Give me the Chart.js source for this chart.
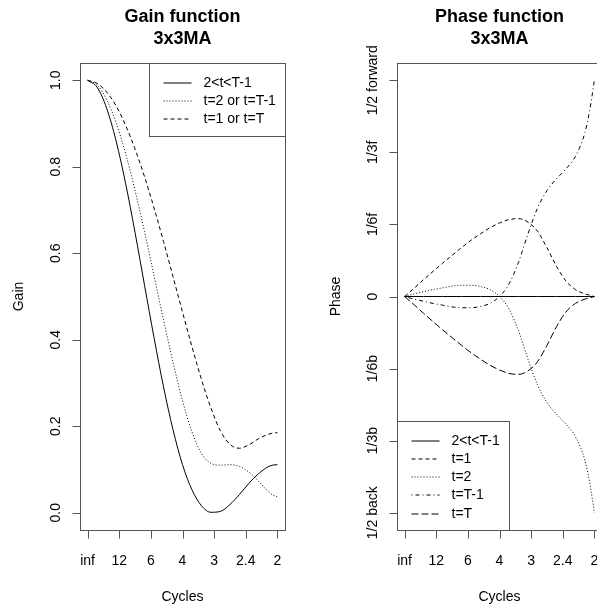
<!DOCTYPE html>
<html>
<head>
<meta charset="utf-8">
<script src="https://cdn.jsdelivr.net/npm/chart.js@4.4.1/dist/chart.umd.min.js"></script>
<style>
  html, body { margin: 0; padding: 0; background: #fff; overflow: hidden; }
  #gain { position: absolute; left: 0; top: 0; }
  #phase { position: absolute; left: 299px; top: 0; }
</style>
</head>
<body>
<canvas id="gain" width="299" height="607"></canvas>
<canvas id="phase" width="320" height="607"></canvas>
<script>
// frequency (cycles per observation), read along the x axis
const freq = [0, 0.025, 0.05, 0.075, 0.1, 0.125, 0.15, 0.175, 0.2, 0.225, 0.25,
  0.275, 0.3, 0.325, 0.35, 0.375, 0.4, 0.425, 0.45, 0.475, 0.4875, 0.5];

// gain curves
const gainMid = [1, 0.984, 0.936, 0.860, 0.762, 0.648, 0.526, 0.405, 0.291, 0.192, 0.111,
  0.053, 0.016, 0.001, 0.003, 0.019, 0.042, 0.068, 0.090, 0.106, 0.110, 0.111];
const gainSecond = [1, 0.989, 0.956, 0.902, 0.831, 0.745, 0.650, 0.548, 0.446, 0.348, 0.259,
  0.187, 0.137, 0.114, 0.110, 0.111, 0.107, 0.094, 0.073, 0.050, 0.041, 0.037];
const gainEnd = [1, 0.993, 0.973, 0.941, 0.896, 0.841, 0.777, 0.705, 0.627, 0.546, 0.464,
  0.384, 0.308, 0.242, 0.189, 0.158, 0.149, 0.157, 0.171, 0.181, 0.184, 0.185];

// phase curves (fraction of a cycle, + = forward)
const phaseMid = [0, 0, 0, 0, 0, 0, 0, 0, 0, 0, 0, 0, 0, 0, 0, 0, 0, 0, 0, 0, 0, 0];
const phaseFirst = [0, 0.019, 0.039, 0.058, 0.077, 0.095, 0.113, 0.130, 0.145, 0.159, 0.170,
  0.178, 0.180, 0.172, 0.151, 0.113, 0.070, 0.036, 0.016, 0.006, 0.003, 0];
const phaseSecond = [0, 0.006, 0.011, 0.016, 0.020, 0.024, 0.026, 0.026, 0.023, 0.016, 0,
  -0.029, -0.079, -0.145, -0.204, -0.245, -0.272, -0.295, -0.324, -0.379, -0.430, -0.5];
const phasePenult = [0, -0.006, -0.011, -0.016, -0.020, -0.024, -0.026, -0.026, -0.023, -0.016, 0,
  0.029, 0.079, 0.145, 0.204, 0.245, 0.272, 0.295, 0.324, 0.379, 0.430, 0.5];
const phaseLast = [0, -0.019, -0.039, -0.058, -0.077, -0.095, -0.113, -0.130, -0.145, -0.159, -0.170,
  -0.178, -0.180, -0.172, -0.151, -0.113, -0.070, -0.036, -0.016, -0.006, -0.003, 0];

// ticks
const cycleTicks = [0, 1 / 12, 1 / 6, 1 / 4, 1 / 3, 5 / 12, 1 / 2];
const cycleLabels = ['inf', '12', '6', '4', '3', '2.4', '2'];
const gainTicks = [0, 0.2, 0.4, 0.6, 0.8, 1.0];
const gainLabels = ['0.0', '0.2', '0.4', '0.6', '0.8', '1.0'];
const phaseTicks = [-1 / 2, -1 / 3, -1 / 6, 0, 1 / 6, 1 / 3, 1 / 2];
const phaseLabels = ['1/2 back', '1/3b', '1/6b', '0', '1/6f', '1/3f', '1/2 forward'];

const gainNames = ['2<t<T-1', 't=2 or t=T-1', 't=1 or t=T'];
const phaseNames = ['2<t<T-1', 't=1', 't=2', 't=T-1', 't=T'];

const FONT = '"Liberation Sans", Arial, Helvetica, sans-serif';
const SOLID = [], DOTTED = [1, 2], DASHED = [4, 3], DOTDASH = [1, 3, 4, 3], LONGDASH = [7, 3];

const pts = ys => freq.map((f, i) => ({x: f, y: ys[i]}));
const line = (label, ys, dash) => ({
  label: label, data: pts(ys), borderColor: '#000', borderWidth: 1, borderDash: dash,
  pointRadius: 0, fill: false, cubicInterpolationMode: 'monotone'
});

// R style box, axes, labels and legend
const rAxes = {
  id: 'rAxes',
  afterDraw(chart, args, o) {
    const {ctx, chartArea: a, scales: {x, y}} = chart;
    const L = Math.round(a.left) + 0.5, R = Math.round(a.right) + 0.5;
    const T = Math.round(a.top) + 0.5, B = Math.round(a.bottom) + 0.5;
    ctx.save();
    ctx.strokeStyle = '#555';
    ctx.lineWidth = 1;
    ctx.setLineDash([]);
    ctx.strokeRect(L, T, R - L, B - T);

    ctx.beginPath();
    o.xTicks.forEach(v => {
      const px = Math.round(x.getPixelForValue(v)) + 0.5;
      ctx.moveTo(px, B); ctx.lineTo(px, B + 8);
    });
    o.yTicks.forEach(v => {
      const py = Math.round(y.getPixelForValue(v)) + 0.5;
      ctx.moveTo(L, py); ctx.lineTo(L - 8, py);
    });
    ctx.stroke();

    ctx.fillStyle = '#000';
    ctx.font = '14px ' + FONT;
    ctx.textAlign = 'center';
    ctx.textBaseline = 'middle';
    o.xTicks.forEach((v, i) => ctx.fillText(o.xLabels[i], x.getPixelForValue(v), a.bottom + 31));
    o.yTicks.forEach((v, i) => {
      ctx.save();
      ctx.translate(a.left - 24, y.getPixelForValue(v));
      ctx.rotate(-Math.PI / 2);
      ctx.fillText(o.yLabels[i], 0, 0);
      ctx.restore();
    });
    ctx.fillText(o.xTitle, (a.left + a.right) / 2, a.bottom + 67);
    ctx.save();
    ctx.translate(a.left - 61, (a.top + a.bottom) / 2);
    ctx.rotate(-Math.PI / 2);
    ctx.fillText(o.yTitle, 0, 0);
    ctx.restore();

    // legend
    const sets = chart.data.datasets;
    const rowH = 18.3;
    const tw = Math.max(...sets.map(d => ctx.measureText(d.label).width));
    const w = Math.round(54 + tw + 10), h = Math.round(36 + rowH * (sets.length - 1));
    const bx = o.legendAt === 'topright' ? R - w : L;
    const by = o.legendAt === 'topright' ? T : B - h;
    ctx.fillStyle = '#fff';
    ctx.fillRect(bx, by, w, h);
    ctx.strokeRect(bx, by, w, h);
    ctx.textAlign = 'left';
    sets.forEach((d, i) => {
      const ry = Math.round(by + 19 + rowH * i);
      ctx.strokeStyle = '#000';
      ctx.setLineDash(d.borderDash);
      ctx.beginPath();
      ctx.moveTo(bx + 14, ry); ctx.lineTo(bx + 42, ry);
      ctx.stroke();
      ctx.fillStyle = '#000';
      ctx.fillText(d.label, bx + 54, ry);
    });
    ctx.restore();
  }
};

function makeChart(id, title, sets, yMin, yMax, axesOpts, pad) {
  return new Chart(document.getElementById(id), {
    type: 'line',
    data: {datasets: sets},
    plugins: [rAxes],
    options: {
      responsive: false,
      devicePixelRatio: 1,
      animation: false,
      layout: {padding: pad},
      scales: {
        x: {type: 'linear', min: -0.02, max: 0.52, display: false},
        y: {type: 'linear', min: yMin, max: yMax, display: false}
      },
      plugins: {
        legend: {display: false},
        tooltip: {enabled: false},
        title: {
          display: true, text: title, fullSize: false, color: '#000',
          font: {family: FONT, size: 18, weight: 'bold', lineHeight: '22px'},
          padding: {top: 6, bottom: 13}
        },
        rAxes: axesOpts
      }
    }
  });
}

makeChart('gain', ['Gain function', '3x3MA'], [
  line(gainNames[0], gainMid, SOLID),
  line(gainNames[1], gainSecond, DOTTED),
  line(gainNames[2], gainEnd, DASHED)
], -0.04, 1.04, {
  xTicks: cycleTicks, xLabels: cycleLabels, yTicks: gainTicks, yLabels: gainLabels,
  xTitle: 'Cycles', yTitle: 'Gain', legendAt: 'topright'
}, {left: 80, right: 14, top: 0, bottom: 77});

makeChart('phase', ['Phase function', '3x3MA'], [
  line(phaseNames[0], phaseMid, SOLID),
  line(phaseNames[1], phaseFirst, DASHED),
  line(phaseNames[2], phaseSecond, DOTTED),
  line(phaseNames[3], phasePenult, DOTDASH),
  line(phaseNames[4], phaseLast, LONGDASH)
], -0.54, 0.54, {
  xTicks: cycleTicks, xLabels: cycleLabels, yTicks: phaseTicks, yLabels: phaseLabels,
  xTitle: 'Cycles', yTitle: 'Phase', legendAt: 'bottomleft'
}, {left: 98, right: 17, top: 0, bottom: 77});
</script>
</body>
</html>
